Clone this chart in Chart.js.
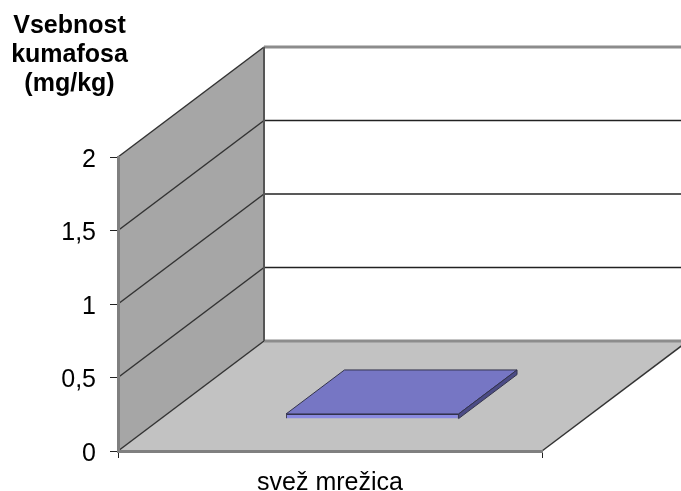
<!DOCTYPE html>
<html>
<head>
<meta charset="utf-8">
<style>
  html, body { margin: 0; padding: 0; background: #fff; }
  canvas { display: block; }
</style>
<script src="https://cdn.jsdelivr.net/npm/chart.js@4/dist/chart.umd.min.js"></script>
</head>
<body>
<canvas id="chart" width="681" height="491"></canvas>
<script>
/* =====================================================
   DATA
===================================================== */
const categories = ["svež mrežica"];
const values = [0.035];
const yTicks = { 0: "0", 0.5: "0,5", 1: "1", 1.5: "1,5", 2: "2" };
const titleLines = ["Vsebnost", "kumafosa", "(mg/kg)"];

/* =====================================================
   3D LOOK (walls, floor, bar faces)
===================================================== */
const depthX = 146;
const depthY = -110;
const barFrontShift = 0.29;
const barDepth = 0.4;

const pseudo3d = {
  id: "pseudo3d",
  beforeDraw(chart) {
    const { ctx, scales } = chart;
    const y = scales.y;
    const x = scales.x;
    const left = x.left;
    const right = x.right;
    const top = y.getPixelForValue(2);
    const bottom = y.getPixelForValue(0);

    // side wall
    ctx.save();
    ctx.fillStyle = "#a6a6a6";
    ctx.beginPath();
    ctx.moveTo(left, top);
    ctx.lineTo(left + depthX, top + depthY);
    ctx.lineTo(left + depthX, bottom + depthY);
    ctx.lineTo(left, bottom);
    ctx.closePath();
    ctx.fill();

    // floor
    ctx.fillStyle = "#c2c2c2";
    ctx.beginPath();
    ctx.moveTo(left, bottom);
    ctx.lineTo(left + depthX, bottom + depthY);
    ctx.lineTo(right + depthX, bottom + depthY);
    ctx.lineTo(right, bottom);
    ctx.closePath();
    ctx.fill();

    // gridlines running over side wall and back wall
    y.ticks.forEach(t => {
      const py = y.getPixelForValue(t.value);
      ctx.strokeStyle = "#333";
      ctx.lineWidth = 1.5;
      ctx.beginPath();
      ctx.moveTo(left, py);
      ctx.lineTo(left + depthX, py + depthY);
      ctx.stroke();
      const edge = t.value === 0 || t.value === 2;
      ctx.strokeStyle = edge ? "#8c8c8c" : "#222";
      ctx.lineWidth = edge ? 3 : 1.6;
      ctx.beginPath();
      ctx.moveTo(left + depthX, py + depthY);
      ctx.lineTo(right + depthX, py + depthY);
      ctx.stroke();
    });

    // floor right edge
    ctx.strokeStyle = "#333";
    ctx.lineWidth = 1.5;
    ctx.beginPath();
    ctx.moveTo(right, bottom);
    ctx.lineTo(right + depthX, bottom + depthY);
    ctx.stroke();

    // back corner
    ctx.strokeStyle = "#555";
    ctx.lineWidth = 2;
    ctx.beginPath();
    ctx.moveTo(left + depthX, top + depthY);
    ctx.lineTo(left + depthX, bottom + depthY);
    ctx.stroke();
    ctx.restore();
  },
  beforeDatasetDraw(chart) {
    // bar stands a little way back on the floor
    const { ctx } = chart;
    ctx.save();
    ctx.translate(depthX * barFrontShift, depthY * barFrontShift);
  },
  afterDatasetDraw(chart, args) {
    const { ctx } = chart;
    args.meta.data.forEach(bar => {
      const l = bar.x - bar.width / 2;
      const r = bar.x + bar.width / 2;
      const dx = depthX * barDepth;
      const dy = depthY * barDepth;
      ctx.strokeStyle = "#33334d";
      ctx.lineWidth = 1;
      ctx.lineJoin = "round";

      // top face
      ctx.fillStyle = "#7676c4";
      ctx.beginPath();
      ctx.moveTo(l, bar.y);
      ctx.lineTo(l + dx, bar.y + dy);
      ctx.lineTo(r + dx, bar.y + dy);
      ctx.lineTo(r, bar.y);
      ctx.closePath();
      ctx.fill();
      ctx.stroke();

      // side face
      ctx.fillStyle = "#4b4b85";
      ctx.beginPath();
      ctx.moveTo(r, bar.y);
      ctx.lineTo(r + dx, bar.y + dy);
      ctx.lineTo(r + dx, bar.base + dy);
      ctx.lineTo(r, bar.base);
      ctx.closePath();
      ctx.fill();
      ctx.stroke();
    });
    ctx.restore();
  },
  afterDraw(chart) {
    const { ctx } = chart;
    ctx.save();
    ctx.fillStyle = "#000";
    ctx.font = "bold 25px 'Liberation Sans', Arial, sans-serif";
    ctx.textAlign = "center";
    ctx.textBaseline = "alphabetic";
    titleLines.forEach((line, i) => ctx.fillText(line, 69.5, 33 + i * 29));
    ctx.restore();
  }
};

/* =====================================================
   CHART
===================================================== */
new Chart(document.getElementById("chart"), {
  type: "bar",
  data: {
    labels: categories,
    datasets: [
      {
        data: values,
        backgroundColor: "#8a8ae0",
        borderColor: "#33334d",
        borderWidth: 1,
        barPercentage: 0.407,
        categoryPercentage: 1
      }
    ]
  },
  options: {
    responsive: false,
    animation: false,
    layout: {
      padding: { top: 157, right: 139, left: 0, bottom: 0 }
    },
    plugins: {
      legend: { display: false },
      tooltip: { enabled: false }
    },
    scales: {
      x: {
        afterFit: s => { s.height = 40; },
        grid: {
          offset: true,
          drawOnChartArea: false,
          color: "#222",
          tickLength: 7
        },
        border: { color: "#808080", width: 3 },
        ticks: {
          color: "#000",
          padding: 10,
          maxRotation: 0,
          font: { family: "'Liberation Sans', Arial, sans-serif", size: 25 }
        }
      },
      y: {
        min: 0,
        max: 2,
        afterFit: s => { s.width = 118; },
        grid: {
          drawOnChartArea: false,
          color: "#222",
          tickLength: 8
        },
        border: { color: "#808080", width: 3 },
        ticks: {
          stepSize: 0.5,
          color: "#000",
          padding: 14,
          labelOffset: 3,
          callback: v => yTicks[v],
          font: { family: "'Liberation Sans', Arial, sans-serif", size: 25 }
        }
      }
    }
  },
  plugins: [pseudo3d]
});
</script>
</body>
</html>
